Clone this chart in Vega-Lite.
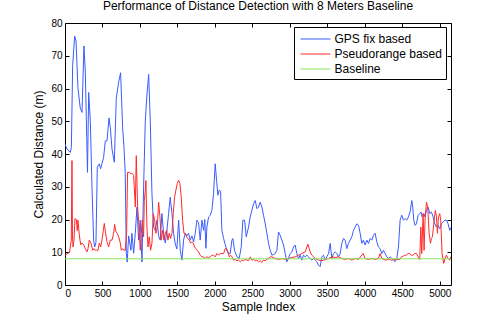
{
"$schema": "https://vega.github.io/schema/vega-lite/v6.json",
"width": 386, "height": 262,
"autosize": "none",
"padding": {"left": 65, "top": 23, "right": 47, "bottom": 36},
"background": "white",
"title": {"text": "Performance of Distance Detection with 8 Meters Baseline", "fontSize": 12, "font": "Liberation Sans", "fontWeight": "normal", "color": "black", "offset": 5},
"config": {
  "view": {"stroke": "black", "strokeWidth": 1},
  "font": "Liberation Sans",
  "axis": {"domain": false, "offset": -4, "tickColor": "black", "tickSize": 4, "labelPadding": 3, "labelFontSize": 10, "labelColor": "black", "titleFontSize": 12, "titleFontWeight": "normal", "titleColor": "black", "grid": false, "labelFont": "Liberation Sans", "titleFont": "Liberation Sans"}
},
"data": {"values": [
{"i":0,"s":"GPS fix based","d":43},{"i":27,"s":"GPS fix based","d":41.5},{"i":71,"s":"GPS fix based","d":40.5},{"i":85,"s":"GPS fix based","d":42},{"i":102,"s":"GPS fix based","d":67},{"i":129,"s":"GPS fix based","d":76},{"i":147,"s":"GPS fix based","d":74.5},{"i":173,"s":"GPS fix based","d":60},{"i":204,"s":"GPS fix based","d":54},{"i":227,"s":"GPS fix based","d":52.7},{"i":253,"s":"GPS fix based","d":73},{"i":271,"s":"GPS fix based","d":65},{"i":290,"s":"GPS fix based","d":45},{"i":300,"s":"GPS fix based","d":34.4},{"i":316,"s":"GPS fix based","d":58.8},{"i":338,"s":"GPS fix based","d":50},{"i":360,"s":"GPS fix based","d":30},{"i":382,"s":"GPS fix based","d":13.7},{"i":396,"s":"GPS fix based","d":11.6},{"i":413,"s":"GPS fix based","d":13},{"i":431,"s":"GPS fix based","d":36},{"i":458,"s":"GPS fix based","d":37},{"i":475,"s":"GPS fix based","d":35.5},{"i":493,"s":"GPS fix based","d":37},{"i":515,"s":"GPS fix based","d":39},{"i":538,"s":"GPS fix based","d":44},{"i":560,"s":"GPS fix based","d":44},{"i":587,"s":"GPS fix based","d":51},{"i":605,"s":"GPS fix based","d":48},{"i":627,"s":"GPS fix based","d":41.5},{"i":658,"s":"GPS fix based","d":37.5},{"i":684,"s":"GPS fix based","d":57},{"i":716,"s":"GPS fix based","d":62},{"i":742,"s":"GPS fix based","d":64.8},{"i":769,"s":"GPS fix based","d":48},{"i":787,"s":"GPS fix based","d":42},{"i":804,"s":"GPS fix based","d":34},{"i":818,"s":"GPS fix based","d":9.7},{"i":830,"s":"GPS fix based","d":7},{"i":849,"s":"GPS fix based","d":15},{"i":880,"s":"GPS fix based","d":10.6},{"i":893,"s":"GPS fix based","d":15.8},{"i":916,"s":"GPS fix based","d":9.7},{"i":938,"s":"GPS fix based","d":15.8},{"i":960,"s":"GPS fix based","d":23.8},{"i":982,"s":"GPS fix based","d":13.7},{"i":1004,"s":"GPS fix based","d":19.8},{"i":1027,"s":"GPS fix based","d":7},{"i":1049,"s":"GPS fix based","d":30},{"i":1071,"s":"GPS fix based","d":50},{"i":1093,"s":"GPS fix based","d":58},{"i":1116,"s":"GPS fix based","d":64.3},{"i":1138,"s":"GPS fix based","d":50},{"i":1160,"s":"GPS fix based","d":28},{"i":1182,"s":"GPS fix based","d":17.7},{"i":1204,"s":"GPS fix based","d":16.7},{"i":1227,"s":"GPS fix based","d":19.8},{"i":1249,"s":"GPS fix based","d":15},{"i":1271,"s":"GPS fix based","d":13.7},{"i":1293,"s":"GPS fix based","d":21.8},{"i":1316,"s":"GPS fix based","d":15.8},{"i":1338,"s":"GPS fix based","d":12.8},{"i":1360,"s":"GPS fix based","d":16.7},{"i":1382,"s":"GPS fix based","d":21.8},{"i":1404,"s":"GPS fix based","d":26.8},{"i":1427,"s":"GPS fix based","d":21.8},{"i":1449,"s":"GPS fix based","d":15.8},{"i":1471,"s":"GPS fix based","d":12.5},{"i":1493,"s":"GPS fix based","d":11},{"i":1516,"s":"GPS fix based","d":19.8},{"i":1538,"s":"GPS fix based","d":10.6},{"i":1560,"s":"GPS fix based","d":7.6},{"i":1582,"s":"GPS fix based","d":13.7},{"i":1604,"s":"GPS fix based","d":15.8},{"i":1627,"s":"GPS fix based","d":15},{"i":1649,"s":"GPS fix based","d":15.8},{"i":1671,"s":"GPS fix based","d":13.7},{"i":1693,"s":"GPS fix based","d":15},{"i":1716,"s":"GPS fix based","d":13.2},{"i":1738,"s":"GPS fix based","d":15.8},{"i":1760,"s":"GPS fix based","d":19.8},{"i":1782,"s":"GPS fix based","d":19},{"i":1804,"s":"GPS fix based","d":13.7},{"i":1827,"s":"GPS fix based","d":19.8},{"i":1849,"s":"GPS fix based","d":16.7},{"i":1865,"s":"GPS fix based","d":20},{"i":1880,"s":"GPS fix based","d":11.2},{"i":1893,"s":"GPS fix based","d":17.7},{"i":1916,"s":"GPS fix based","d":20.8},{"i":1938,"s":"GPS fix based","d":21.3},{"i":1960,"s":"GPS fix based","d":22.8},{"i":1982,"s":"GPS fix based","d":27.9},{"i":2004,"s":"GPS fix based","d":37},{"i":2022,"s":"GPS fix based","d":32},{"i":2040,"s":"GPS fix based","d":27.4},{"i":2058,"s":"GPS fix based","d":29},{"i":2076,"s":"GPS fix based","d":28.5},{"i":2093,"s":"GPS fix based","d":16.7},{"i":2116,"s":"GPS fix based","d":14.2},{"i":2138,"s":"GPS fix based","d":12.3},{"i":2160,"s":"GPS fix based","d":10.6},{"i":2182,"s":"GPS fix based","d":9.6},{"i":2204,"s":"GPS fix based","d":9.6},{"i":2227,"s":"GPS fix based","d":13.7},{"i":2240,"s":"GPS fix based","d":14.2},{"i":2262,"s":"GPS fix based","d":10.6},{"i":2293,"s":"GPS fix based","d":8.6},{"i":2324,"s":"GPS fix based","d":8.1},{"i":2351,"s":"GPS fix based","d":11.5},{"i":2373,"s":"GPS fix based","d":19.8},{"i":2396,"s":"GPS fix based","d":19.8},{"i":2418,"s":"GPS fix based","d":14.7},{"i":2449,"s":"GPS fix based","d":17.7},{"i":2471,"s":"GPS fix based","d":20.8},{"i":2493,"s":"GPS fix based","d":22.8},{"i":2516,"s":"GPS fix based","d":24.8},{"i":2538,"s":"GPS fix based","d":25.8},{"i":2560,"s":"GPS fix based","d":23.3},{"i":2582,"s":"GPS fix based","d":23.8},{"i":2604,"s":"GPS fix based","d":25.3},{"i":2627,"s":"GPS fix based","d":23.8},{"i":2649,"s":"GPS fix based","d":21.3},{"i":2671,"s":"GPS fix based","d":18.7},{"i":2693,"s":"GPS fix based","d":15.8},{"i":2716,"s":"GPS fix based","d":12.7},{"i":2738,"s":"GPS fix based","d":10.6},{"i":2760,"s":"GPS fix based","d":9.1},{"i":2782,"s":"GPS fix based","d":9.3},{"i":2804,"s":"GPS fix based","d":9.6},{"i":2827,"s":"GPS fix based","d":10.6},{"i":2849,"s":"GPS fix based","d":16.2},{"i":2871,"s":"GPS fix based","d":15.2},{"i":2893,"s":"GPS fix based","d":13.7},{"i":2916,"s":"GPS fix based","d":12.2},{"i":2938,"s":"GPS fix based","d":9.6},{"i":2960,"s":"GPS fix based","d":7.1},{"i":2982,"s":"GPS fix based","d":8.1},{"i":3004,"s":"GPS fix based","d":9.6},{"i":3027,"s":"GPS fix based","d":10.1},{"i":3049,"s":"GPS fix based","d":11.6},{"i":3071,"s":"GPS fix based","d":12.2},{"i":3093,"s":"GPS fix based","d":9.6},{"i":3116,"s":"GPS fix based","d":8.1},{"i":3138,"s":"GPS fix based","d":9.1},{"i":3160,"s":"GPS fix based","d":7.6},{"i":3182,"s":"GPS fix based","d":9.1},{"i":3204,"s":"GPS fix based","d":8.6},{"i":3227,"s":"GPS fix based","d":9.1},{"i":3249,"s":"GPS fix based","d":8.6},{"i":3271,"s":"GPS fix based","d":8.1},{"i":3293,"s":"GPS fix based","d":7.6},{"i":3316,"s":"GPS fix based","d":8.1},{"i":3338,"s":"GPS fix based","d":7.6},{"i":3360,"s":"GPS fix based","d":7.1},{"i":3382,"s":"GPS fix based","d":6.1},{"i":3404,"s":"GPS fix based","d":5.6},{"i":3427,"s":"GPS fix based","d":8.6},{"i":3449,"s":"GPS fix based","d":9.1},{"i":3471,"s":"GPS fix based","d":7.6},{"i":3493,"s":"GPS fix based","d":8.6},{"i":3516,"s":"GPS fix based","d":9.6},{"i":3538,"s":"GPS fix based","d":12.7},{"i":3560,"s":"GPS fix based","d":8.1},{"i":3582,"s":"GPS fix based","d":9.6},{"i":3604,"s":"GPS fix based","d":10.1},{"i":3627,"s":"GPS fix based","d":9.6},{"i":3649,"s":"GPS fix based","d":8.6},{"i":3671,"s":"GPS fix based","d":9.6},{"i":3693,"s":"GPS fix based","d":12.7},{"i":3716,"s":"GPS fix based","d":14.2},{"i":3738,"s":"GPS fix based","d":13.7},{"i":3760,"s":"GPS fix based","d":11.1},{"i":3782,"s":"GPS fix based","d":12.7},{"i":3804,"s":"GPS fix based","d":13.7},{"i":3827,"s":"GPS fix based","d":14.7},{"i":3849,"s":"GPS fix based","d":16.7},{"i":3871,"s":"GPS fix based","d":17.7},{"i":3893,"s":"GPS fix based","d":18.7},{"i":3916,"s":"GPS fix based","d":18.2},{"i":3938,"s":"GPS fix based","d":15.8},{"i":3960,"s":"GPS fix based","d":12.7},{"i":3982,"s":"GPS fix based","d":13.7},{"i":4004,"s":"GPS fix based","d":12.2},{"i":4027,"s":"GPS fix based","d":13.7},{"i":4049,"s":"GPS fix based","d":12.7},{"i":4071,"s":"GPS fix based","d":14.2},{"i":4093,"s":"GPS fix based","d":13.7},{"i":4116,"s":"GPS fix based","d":15.2},{"i":4138,"s":"GPS fix based","d":15.8},{"i":4160,"s":"GPS fix based","d":13.2},{"i":4182,"s":"GPS fix based","d":11.6},{"i":4204,"s":"GPS fix based","d":11.1},{"i":4227,"s":"GPS fix based","d":9.6},{"i":4249,"s":"GPS fix based","d":10.6},{"i":4271,"s":"GPS fix based","d":9.6},{"i":4293,"s":"GPS fix based","d":8.6},{"i":4316,"s":"GPS fix based","d":8.1},{"i":4338,"s":"GPS fix based","d":8.6},{"i":4360,"s":"GPS fix based","d":8.1},{"i":4382,"s":"GPS fix based","d":7.6},{"i":4404,"s":"GPS fix based","d":7.1},{"i":4427,"s":"GPS fix based","d":8.1},{"i":4449,"s":"GPS fix based","d":11.6},{"i":4471,"s":"GPS fix based","d":19.8},{"i":4493,"s":"GPS fix based","d":21.3},{"i":4516,"s":"GPS fix based","d":19.8},{"i":4538,"s":"GPS fix based","d":20.3},{"i":4560,"s":"GPS fix based","d":19.8},{"i":4582,"s":"GPS fix based","d":20.8},{"i":4604,"s":"GPS fix based","d":22.3},{"i":4627,"s":"GPS fix based","d":25.8},{"i":4640,"s":"GPS fix based","d":23.8},{"i":4653,"s":"GPS fix based","d":19.8},{"i":4671,"s":"GPS fix based","d":18.2},{"i":4689,"s":"GPS fix based","d":18.7},{"i":4711,"s":"GPS fix based","d":21.3},{"i":4733,"s":"GPS fix based","d":21.8},{"i":4750,"s":"GPS fix based","d":22.3},{"i":4764,"s":"GPS fix based","d":20.8},{"i":4787,"s":"GPS fix based","d":21.8},{"i":4804,"s":"GPS fix based","d":20.8},{"i":4822,"s":"GPS fix based","d":22.8},{"i":4844,"s":"GPS fix based","d":23.8},{"i":4867,"s":"GPS fix based","d":21.8},{"i":4889,"s":"GPS fix based","d":22.3},{"i":4911,"s":"GPS fix based","d":20.8},{"i":4933,"s":"GPS fix based","d":18.7},{"i":4956,"s":"GPS fix based","d":17.7},{"i":4978,"s":"GPS fix based","d":18.2},{"i":5000,"s":"GPS fix based","d":17.2},{"i":5022,"s":"GPS fix based","d":18.7},{"i":5044,"s":"GPS fix based","d":19.2},{"i":5067,"s":"GPS fix based","d":19.8},{"i":5089,"s":"GPS fix based","d":19.8},{"i":5111,"s":"GPS fix based","d":18.7},{"i":5133,"s":"GPS fix based","d":16.7},{"i":5147,"s":"GPS fix based","d":17.5},
{"i":0,"s":"Pseudorange based","d":9},{"i":27,"s":"Pseudorange based","d":9.5},{"i":60,"s":"Pseudorange based","d":10},{"i":84,"s":"Pseudorange based","d":13.7},{"i":93,"s":"Pseudorange based","d":38},{"i":100,"s":"Pseudorange based","d":15},{"i":107,"s":"Pseudorange based","d":11.6},{"i":120,"s":"Pseudorange based","d":13.7},{"i":133,"s":"Pseudorange based","d":20.3},{"i":151,"s":"Pseudorange based","d":20},{"i":164,"s":"Pseudorange based","d":16.6},{"i":173,"s":"Pseudorange based","d":19.8},{"i":191,"s":"Pseudorange based","d":15.3},{"i":209,"s":"Pseudorange based","d":12.3},{"i":227,"s":"Pseudorange based","d":12.8},{"i":249,"s":"Pseudorange based","d":12.3},{"i":271,"s":"Pseudorange based","d":11.1},{"i":293,"s":"Pseudorange based","d":10.1},{"i":307,"s":"Pseudorange based","d":11.1},{"i":324,"s":"Pseudorange based","d":13.7},{"i":347,"s":"Pseudorange based","d":12.8},{"i":369,"s":"Pseudorange based","d":10.6},{"i":387,"s":"Pseudorange based","d":11.1},{"i":404,"s":"Pseudorange based","d":10.6},{"i":422,"s":"Pseudorange based","d":10.6},{"i":440,"s":"Pseudorange based","d":10.6},{"i":458,"s":"Pseudorange based","d":12.8},{"i":476,"s":"Pseudorange based","d":11.6},{"i":493,"s":"Pseudorange based","d":13.7},{"i":511,"s":"Pseudorange based","d":16.6},{"i":524,"s":"Pseudorange based","d":18.8},{"i":542,"s":"Pseudorange based","d":15.8},{"i":560,"s":"Pseudorange based","d":13.2},{"i":582,"s":"Pseudorange based","d":11.6},{"i":604,"s":"Pseudorange based","d":13.7},{"i":627,"s":"Pseudorange based","d":13.7},{"i":649,"s":"Pseudorange based","d":15.8},{"i":662,"s":"Pseudorange based","d":18.5},{"i":680,"s":"Pseudorange based","d":16.2},{"i":698,"s":"Pseudorange based","d":15.8},{"i":716,"s":"Pseudorange based","d":14.7},{"i":738,"s":"Pseudorange based","d":12.8},{"i":751,"s":"Pseudorange based","d":10.6},{"i":769,"s":"Pseudorange based","d":11.1},{"i":787,"s":"Pseudorange based","d":10.6},{"i":804,"s":"Pseudorange based","d":10.6},{"i":822,"s":"Pseudorange based","d":16},{"i":835,"s":"Pseudorange based","d":34.4},{"i":860,"s":"Pseudorange based","d":34.4},{"i":880,"s":"Pseudorange based","d":34},{"i":893,"s":"Pseudorange based","d":34},{"i":916,"s":"Pseudorange based","d":33.5},{"i":938,"s":"Pseudorange based","d":23.8},{"i":951,"s":"Pseudorange based","d":39.5},{"i":969,"s":"Pseudorange based","d":23.8},{"i":982,"s":"Pseudorange based","d":19.8},{"i":1004,"s":"Pseudorange based","d":10.6},{"i":1018,"s":"Pseudorange based","d":15.8},{"i":1031,"s":"Pseudorange based","d":19.8},{"i":1049,"s":"Pseudorange based","d":14.7},{"i":1058,"s":"Pseudorange based","d":25.8},{"i":1071,"s":"Pseudorange based","d":28.9},{"i":1080,"s":"Pseudorange based","d":31.9},{"i":1093,"s":"Pseudorange based","d":17.7},{"i":1107,"s":"Pseudorange based","d":11.6},{"i":1124,"s":"Pseudorange based","d":14.7},{"i":1142,"s":"Pseudorange based","d":10.6},{"i":1160,"s":"Pseudorange based","d":12.8},{"i":1178,"s":"Pseudorange based","d":21.8},{"i":1196,"s":"Pseudorange based","d":19.8},{"i":1213,"s":"Pseudorange based","d":15.8},{"i":1231,"s":"Pseudorange based","d":17.7},{"i":1249,"s":"Pseudorange based","d":25.3},{"i":1267,"s":"Pseudorange based","d":20.8},{"i":1284,"s":"Pseudorange based","d":13.7},{"i":1302,"s":"Pseudorange based","d":16.7},{"i":1320,"s":"Pseudorange based","d":13.7},{"i":1338,"s":"Pseudorange based","d":15.8},{"i":1356,"s":"Pseudorange based","d":16.7},{"i":1373,"s":"Pseudorange based","d":13.7},{"i":1391,"s":"Pseudorange based","d":15.8},{"i":1409,"s":"Pseudorange based","d":14.2},{"i":1427,"s":"Pseudorange based","d":15.8},{"i":1444,"s":"Pseudorange based","d":21.8},{"i":1462,"s":"Pseudorange based","d":26.8},{"i":1480,"s":"Pseudorange based","d":29},{"i":1498,"s":"Pseudorange based","d":31},{"i":1516,"s":"Pseudorange based","d":32},{"i":1533,"s":"Pseudorange based","d":31},{"i":1551,"s":"Pseudorange based","d":26.8},{"i":1569,"s":"Pseudorange based","d":19.8},{"i":1587,"s":"Pseudorange based","d":15.8},{"i":1604,"s":"Pseudorange based","d":15.8},{"i":1622,"s":"Pseudorange based","d":14.7},{"i":1640,"s":"Pseudorange based","d":14.2},{"i":1658,"s":"Pseudorange based","d":13.7},{"i":1676,"s":"Pseudorange based","d":12.8},{"i":1693,"s":"Pseudorange based","d":13.2},{"i":1711,"s":"Pseudorange based","d":12.8},{"i":1729,"s":"Pseudorange based","d":11.6},{"i":1747,"s":"Pseudorange based","d":11.1},{"i":1764,"s":"Pseudorange based","d":10.6},{"i":1782,"s":"Pseudorange based","d":10.1},{"i":1804,"s":"Pseudorange based","d":9.1},{"i":1827,"s":"Pseudorange based","d":8.6},{"i":1849,"s":"Pseudorange based","d":8.6},{"i":1871,"s":"Pseudorange based","d":8.1},{"i":1893,"s":"Pseudorange based","d":8.6},{"i":1916,"s":"Pseudorange based","d":8.4},{"i":1938,"s":"Pseudorange based","d":8.6},{"i":1960,"s":"Pseudorange based","d":9.1},{"i":1982,"s":"Pseudorange based","d":9.1},{"i":2004,"s":"Pseudorange based","d":8.6},{"i":2027,"s":"Pseudorange based","d":9.6},{"i":2049,"s":"Pseudorange based","d":9.1},{"i":2071,"s":"Pseudorange based","d":9.6},{"i":2093,"s":"Pseudorange based","d":9.6},{"i":2116,"s":"Pseudorange based","d":9.6},{"i":2138,"s":"Pseudorange based","d":11.1},{"i":2156,"s":"Pseudorange based","d":11.1},{"i":2173,"s":"Pseudorange based","d":10.1},{"i":2191,"s":"Pseudorange based","d":8.6},{"i":2209,"s":"Pseudorange based","d":9.1},{"i":2227,"s":"Pseudorange based","d":8.6},{"i":2249,"s":"Pseudorange based","d":7.6},{"i":2271,"s":"Pseudorange based","d":7.8},{"i":2293,"s":"Pseudorange based","d":7.4},{"i":2316,"s":"Pseudorange based","d":7.6},{"i":2338,"s":"Pseudorange based","d":7.1},{"i":2360,"s":"Pseudorange based","d":7.6},{"i":2382,"s":"Pseudorange based","d":7.4},{"i":2404,"s":"Pseudorange based","d":7.8},{"i":2427,"s":"Pseudorange based","d":7.6},{"i":2449,"s":"Pseudorange based","d":7.4},{"i":2471,"s":"Pseudorange based","d":8.6},{"i":2493,"s":"Pseudorange based","d":7.6},{"i":2516,"s":"Pseudorange based","d":7.8},{"i":2538,"s":"Pseudorange based","d":7.4},{"i":2560,"s":"Pseudorange based","d":7.6},{"i":2582,"s":"Pseudorange based","d":7.1},{"i":2604,"s":"Pseudorange based","d":7.4},{"i":2627,"s":"Pseudorange based","d":6.9},{"i":2649,"s":"Pseudorange based","d":7.6},{"i":2671,"s":"Pseudorange based","d":7.4},{"i":2693,"s":"Pseudorange based","d":7.8},{"i":2716,"s":"Pseudorange based","d":8.1},{"i":2738,"s":"Pseudorange based","d":8.6},{"i":2760,"s":"Pseudorange based","d":8.6},{"i":2804,"s":"Pseudorange based","d":8.1},{"i":2849,"s":"Pseudorange based","d":7.8},{"i":2893,"s":"Pseudorange based","d":8.1},{"i":2938,"s":"Pseudorange based","d":7.8},{"i":2982,"s":"Pseudorange based","d":8.1},{"i":3027,"s":"Pseudorange based","d":8.4},{"i":3071,"s":"Pseudorange based","d":8.6},{"i":3116,"s":"Pseudorange based","d":9.1},{"i":3160,"s":"Pseudorange based","d":9.6},{"i":3204,"s":"Pseudorange based","d":10.1},{"i":3227,"s":"Pseudorange based","d":11.6},{"i":3240,"s":"Pseudorange based","d":12.5},{"i":3258,"s":"Pseudorange based","d":11.1},{"i":3276,"s":"Pseudorange based","d":9.8},{"i":3293,"s":"Pseudorange based","d":9.1},{"i":3316,"s":"Pseudorange based","d":8.6},{"i":3338,"s":"Pseudorange based","d":8.1},{"i":3382,"s":"Pseudorange based","d":7.6},{"i":3427,"s":"Pseudorange based","d":7.4},{"i":3471,"s":"Pseudorange based","d":7.8},{"i":3516,"s":"Pseudorange based","d":8.1},{"i":3560,"s":"Pseudorange based","d":8.6},{"i":3604,"s":"Pseudorange based","d":8.4},{"i":3649,"s":"Pseudorange based","d":8.6},{"i":3693,"s":"Pseudorange based","d":8.1},{"i":3738,"s":"Pseudorange based","d":7.8},{"i":3782,"s":"Pseudorange based","d":8.1},{"i":3827,"s":"Pseudorange based","d":7.6},{"i":3871,"s":"Pseudorange based","d":8.1},{"i":3916,"s":"Pseudorange based","d":7.8},{"i":3960,"s":"Pseudorange based","d":9.1},{"i":3978,"s":"Pseudorange based","d":9.6},{"i":4004,"s":"Pseudorange based","d":8.1},{"i":4049,"s":"Pseudorange based","d":7.8},{"i":4093,"s":"Pseudorange based","d":8.1},{"i":4138,"s":"Pseudorange based","d":7.8},{"i":4182,"s":"Pseudorange based","d":8.1},{"i":4204,"s":"Pseudorange based","d":9.6},{"i":4227,"s":"Pseudorange based","d":8.1},{"i":4271,"s":"Pseudorange based","d":7.6},{"i":4316,"s":"Pseudorange based","d":7.8},{"i":4360,"s":"Pseudorange based","d":7.6},{"i":4404,"s":"Pseudorange based","d":7.8},{"i":4427,"s":"Pseudorange based","d":7.8},{"i":4467,"s":"Pseudorange based","d":7.8},{"i":4489,"s":"Pseudorange based","d":8.6},{"i":4511,"s":"Pseudorange based","d":8.8},{"i":4533,"s":"Pseudorange based","d":9.1},{"i":4556,"s":"Pseudorange based","d":9.1},{"i":4578,"s":"Pseudorange based","d":9.6},{"i":4600,"s":"Pseudorange based","d":9.6},{"i":4622,"s":"Pseudorange based","d":9.1},{"i":4644,"s":"Pseudorange based","d":9.1},{"i":4667,"s":"Pseudorange based","d":9.6},{"i":4689,"s":"Pseudorange based","d":9.6},{"i":4711,"s":"Pseudorange based","d":8.6},{"i":4733,"s":"Pseudorange based","d":7.8},{"i":4747,"s":"Pseudorange based","d":17.7},{"i":4760,"s":"Pseudorange based","d":9.6},{"i":4778,"s":"Pseudorange based","d":21.8},{"i":4791,"s":"Pseudorange based","d":10.6},{"i":4804,"s":"Pseudorange based","d":19.8},{"i":4822,"s":"Pseudorange based","d":25.3},{"i":4840,"s":"Pseudorange based","d":23.8},{"i":4858,"s":"Pseudorange based","d":15.8},{"i":4876,"s":"Pseudorange based","d":12.7},{"i":4889,"s":"Pseudorange based","d":14.2},{"i":4902,"s":"Pseudorange based","d":14.7},{"i":4916,"s":"Pseudorange based","d":17.7},{"i":4929,"s":"Pseudorange based","d":20.8},{"i":4942,"s":"Pseudorange based","d":22.8},{"i":4956,"s":"Pseudorange based","d":20.8},{"i":4969,"s":"Pseudorange based","d":15.8},{"i":4982,"s":"Pseudorange based","d":20.8},{"i":5000,"s":"Pseudorange based","d":21.8},{"i":5013,"s":"Pseudorange based","d":19.8},{"i":5031,"s":"Pseudorange based","d":9.6},{"i":5053,"s":"Pseudorange based","d":6.6},{"i":5071,"s":"Pseudorange based","d":8.1},{"i":5089,"s":"Pseudorange based","d":9.1},{"i":5111,"s":"Pseudorange based","d":8.1},{"i":5133,"s":"Pseudorange based","d":7.6},{"i":5147,"s":"Pseudorange based","d":8.6},
{"i":0,"s":"Baseline","d":8},{"i":5147,"s":"Baseline","d":8}
]},
"layer": [
  {
    "mark": {"type": "line", "strokeWidth": 1, "clip": true},
    "encoding": {
      "x": {"field": "i", "type": "quantitative", "scale": {"domain": [0, 5150], "nice": false, "zero": false}, "axis": {"orient": "bottom", "values": [0,500,1000,1500,2000,2500,3000,3500,4000,4500,5000], "format": "d", "title": "Sample Index", "titlePadding": 3}},
      "y": {"field": "d", "type": "quantitative", "scale": {"domain": [0, 80], "nice": false}, "axis": {"orient": "left", "values": [0,10,20,30,40,50,60,70,80], "title": "Calculated Distance (m)", "titlePadding": 5}},
      "color": {"field": "s", "type": "nominal", "scale": {"domain": ["GPS fix based", "Pseudorange based", "Baseline"], "range": ["#3a5cff", "#ff2a2a", "#86e65a"]},
        "legend": {"orient": "none", "legendX": 229, "legendY": 4, "title": null, "strokeColor": "black", "fillColor": "white", "padding": 4, "symbolType": "M-2,0L2,0", "symbolSize": 225, "symbolStrokeWidth": 1, "symbolFillColor": "transparent", "symbolOffset": 9.5, "labelFontSize": 12, "labelOffset": 11, "rowPadding": 1, "labelColor": "black"}},
      "order": {"field": "i", "type": "quantitative"}
    }
  },
  {
    "mark": {"type": "line", "opacity": 0},
    "encoding": {
      "x": {"field": "i", "type": "quantitative", "axis": {"orient": "top", "values": [0,500,1000,1500,2000,2500,3000,3500,4000,4500,5000], "labels": false, "title": null}},
      "y": {"field": "d", "type": "quantitative", "axis": {"orient": "right", "values": [0,10,20,30,40,50,60,70,80], "labels": false, "title": null}}
    }
  }
],
"resolve": {"axis": {"x": "independent", "y": "independent"}}
}
